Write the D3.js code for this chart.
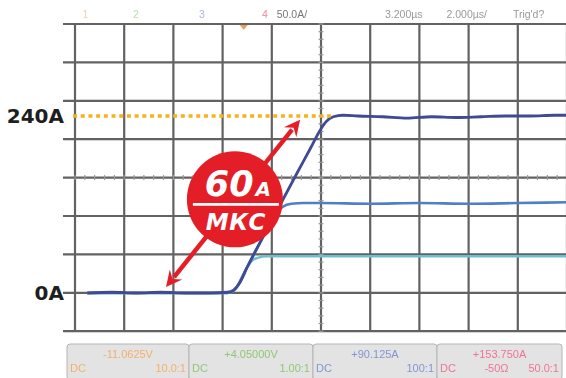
<!DOCTYPE html>
<html><head><meta charset="utf-8">
<script src="https://cdn.jsdelivr.net/npm/d3@7"></script>
<style>html,body{margin:0;padding:0;background:#fff;}svg{display:block;}</style>
</head><body>
<svg id="c" width="566" height="378"></svg>
<script>
// ---- data ----
const timeDark = [0.5,1.5,2.5,3.5,4.5,5.5,6.2,6.45,6.7,7,8,9,9.6,9.9,10.2,10.5,10.9,11.5,12.5,13.5,14.5,15.5,16.5,17.5,18.5,19.5,20];
const ampDark  = [0,1,0,1,0,0,1,4,14,35,98,161,198,217,232,239,241,240,239,237,239,238,239,240,240,241,241];
const timeMid  = [0.5,6.2,6.45,7,8,8.2,8.45,8.8,9.3,10,12,14,16,18,20];
const ampMid   = [0,0,3,35,98,109,117,121,122,122,121,122,121,122,123];
const timeCyan = [0.5,6.2,6.45,7,7.2,7.45,7.8,8.5,10,12,14,16,18,20];
const ampCyan  = [0,0,3,35,44,48,50,50,50,50,50,50,50,50];
const levelLabels = ["240A","0A"];
const levelValues = [240,0];
const headerTexts = ["1","2","3","4","50.0A/","3.200µs","2.000µs/","Trig'd?"];
const headerColors = ["#f3cfae","#bcdcae","#aab8da","#f0879a","#777","#999","#999","#999"];
const headerPos = [0.15,1.18,2.52,3.8,4.1,6.3,7.55,8.9];   // in divisions
const chanTop = ["-11.0625V","+4.05000V","+90.125A","+153.750A"];
const chanLeft = ["DC","DC","DC","DC"];
const chanRight = ["10.0:1","1.00:1","100:1","50.0:1"];
const chanMid = ["","","","-50Ω"];
const chanColors = ["#f2b06c","#8fc873","#8594d2","#f07493"];
const rateValue = "60";
const rateUnitTop = "A";
const rateUnitBottom = "МКС";
const arrowFrom = {t:3.7, a:8};
const arrowTo = {t:9.15, a:235};
const badgeCenter = {t:6.5, a:127};

// ---- scales ----
const svg = d3.select("#c");
const defs = svg.append("defs");
defs.append("filter").attr("id","soft").append("feGaussianBlur").attr("stdDeviation",0.55);
const xDiv = d3.scaleLinear().domain([0,10]).range([75,567]);
const yDiv = d3.scaleLinear().domain([0,8]).range([24,331.2]);
const x = d3.scaleLinear().domain([0,20]).range([75,567]);
const y = d3.scaleLinear().domain([0,240]).range([293,116]);

// ---- grid ----
const g = svg.append("g").attr("filter","url(#soft)");
g.selectAll(".vl").data(d3.range(0,11)).join("line")
  .attr("x1",d=>xDiv(d)).attr("x2",d=>xDiv(d)).attr("y1",yDiv(0)).attr("y2",yDiv(8))
  .attr("stroke","#626262").attr("stroke-width",2.2);
g.selectAll(".hl").data(d3.range(0,9)).join("line")
  .attr("x1",63).attr("x2",567).attr("y1",d=>yDiv(d)).attr("y2",d=>yDiv(d))
  .attr("stroke","#626262").attr("stroke-width",2.2);
// minor ticks on centre lines
const minorX = d3.range(0,10.01,0.2), minorY = d3.range(0,8.01,0.2);
g.selectAll(".tx").data(minorX).join("line")
  .attr("x1",d=>xDiv(d)).attr("x2",d=>xDiv(d)).attr("y1",yDiv(4)-2.5).attr("y2",yDiv(4)+2.5)
  .attr("stroke","#999").attr("stroke-width",1.2);
g.selectAll(".ty").data(minorY).join("line")
  .attr("y1",d=>yDiv(d)).attr("y2",d=>yDiv(d)).attr("x1",xDiv(5)-2.5).attr("x2",xDiv(5)+2.5)
  .attr("stroke","#999").attr("stroke-width",1.2);

// trigger marker
svg.append("path").attr("d",`M${xDiv(3.43)-4},${yDiv(0)+1}L${xDiv(3.43)+4},${yDiv(0)+1}L${xDiv(3.43)},${yDiv(0)+6}Z`)
  .attr("fill","#e7a35d").attr("filter","url(#soft)");

// header
svg.append("g").attr("filter","url(#soft)").selectAll(".hd").data(headerTexts).join("text")
  .attr("x",(d,i)=>xDiv(headerPos[i])).attr("y",18)
  .attr("font-family","Liberation Sans, Arial, sans-serif").attr("font-size",10.5)
  .attr("fill",(d,i)=>headerColors[i]).text(d=>d);

// bottom channel panels
const panelEdges = [67,189,313,437,562];
const pg = svg.append("g").attr("filter","url(#soft)");
chanTop.forEach((t,i)=>{
  const x0 = panelEdges[i], x1 = panelEdges[i+1];
  pg.append("rect").attr("x",x0).attr("y",344).attr("width",x1-x0).attr("height",36).attr("rx",3)
    .attr("fill","#e3e3e3").attr("stroke","#b5b5b5").attr("stroke-width",1);
  pg.append("text").attr("x",(x0+x1)/2).attr("y",358).attr("text-anchor","middle")
    .attr("font-family","Liberation Sans, Arial, sans-serif").attr("font-size",11).attr("fill",chanColors[i]).text(t);
  pg.append("text").attr("x",x0+3).attr("y",372)
    .attr("font-family","Liberation Sans, Arial, sans-serif").attr("font-size",11).attr("fill",chanColors[i]).text(chanLeft[i]);
  pg.append("text").attr("x",x1-3).attr("y",372).attr("text-anchor","end")
    .attr("font-family","Liberation Sans, Arial, sans-serif").attr("font-size",11).attr("fill",chanColors[i]).text(chanRight[i]);
  if(chanMid[i]) pg.append("text").attr("x",(x0+x1)/2-3).attr("y",372).attr("text-anchor","middle")
    .attr("font-family","Liberation Sans, Arial, sans-serif").attr("font-size",11).attr("fill",chanColors[i]).text(chanMid[i]);
});

// ---- traces ----
const line = d3.line().x(d=>x(d[0])).y(d=>y(d[1])).curve(d3.curveMonotoneX);
const traces = [
  {t:timeCyan, a:ampCyan, c:"#6cbfcf", w:2.5},
  {t:timeMid, a:ampMid, c:"#4f7fc6", w:2.6},
  {t:timeDark, a:ampDark, c:"#3f4993", w:2.8}
];
const tg = svg.append("g").attr("filter","url(#soft)");
traces.forEach(tr=>{
  tg.append("path").datum(tr.t.map((t,i)=>[t,tr.a[i]])).attr("d",line)
    .attr("fill","none").attr("stroke",tr.c).attr("stroke-width",tr.w).attr("stroke-linejoin","round");
});

// ---- annotations ----
// dotted 240A line
svg.append("line").attr("x1",x(-0.08)).attr("x2",x(10.4)).attr("y1",y(240)).attr("y2",y(240))
  .attr("stroke","#f6b21c").attr("stroke-width",3.6).attr("stroke-dasharray","4 3.7");
// level labels
svg.selectAll(".lv").data(levelLabels).join("text")
  .attr("x",64).attr("y",(d,i)=>y(levelValues[i])+7).attr("text-anchor","end")
  .attr("font-family","DejaVu Sans, sans-serif").attr("font-weight","bold").attr("font-size",20)
  .attr("fill","#1e1e1e").text(d=>d);

// arrow
const red = "#e41e26";
const ax0 = x(arrowFrom.t), ay0 = y(arrowFrom.a), ax1 = x(arrowTo.t), ay1 = y(arrowTo.a);
const dx = ax1-ax0, dy = ay1-ay0, L = Math.hypot(dx,dy), ux = dx/L, uy = dy/L, px = -uy, py = ux;
const hl = 16, hw = 8;
svg.append("line").attr("x1",ax0+ux*hl*0.8).attr("y1",ay0+uy*hl*0.8).attr("x2",ax1-ux*hl*0.8).attr("y2",ay1-uy*hl*0.8)
  .attr("stroke",red).attr("stroke-width",4.5);
[[ax1,ay1,1],[ax0,ay0,-1]].forEach(([tx,ty,s])=>{
  const bx = tx - s*ux*hl, by = ty - s*uy*hl;
  svg.append("path").attr("d",`M${tx},${ty}L${bx+px*hw},${by+py*hw}L${tx-s*ux*hl*0.65},${ty-s*uy*hl*0.65}L${bx-px*hw},${by-py*hw}Z`)
    .attr("fill",red);
});
// badge
const cx = x(badgeCenter.t), cy = y(badgeCenter.a);
svg.append("circle").attr("cx",cx).attr("cy",cy).attr("r",48).attr("fill",red);
svg.append("line").attr("x1",cx-42).attr("x2",cx+44).attr("y1",cy+5).attr("y2",cy+5)
  .attr("stroke","#fff").attr("stroke-width",2.6);
const bt = svg.append("text").attr("x",cx+3).attr("y",cy-3).attr("text-anchor","middle")
  .attr("font-family","DejaVu Sans, sans-serif").attr("font-weight","bold").attr("font-style","italic").attr("fill","#fff");
bt.append("tspan").attr("font-size",35).text(rateValue);
bt.append("tspan").attr("font-size",20).attr("dx",2).text(rateUnitTop);
svg.append("text").attr("x",cx+1).attr("y",cy+31).attr("text-anchor","middle")
  .attr("font-family","DejaVu Sans, sans-serif").attr("font-weight","bold").attr("font-style","italic")
  .attr("font-size",23).attr("letter-spacing",0.5).attr("fill","#fff").text(rateUnitBottom);
</script>
</body></html>
